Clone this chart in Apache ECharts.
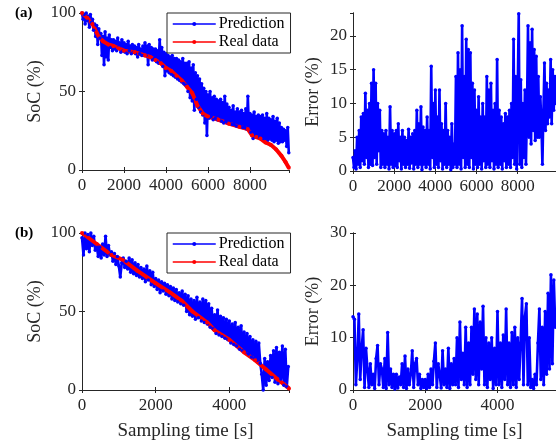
<!DOCTYPE html>
<html lang="en">
<head>
  <meta charset="UTF-8" />
  <title>SoC</title>
  <script src="https://cdn.jsdelivr.net/npm/echarts@6/dist/echarts.min.js"></script>
</head>
<body style="margin:0;background:#fff">
  <div id="main" style="width:556px;height:442px;"></div>
  <script type="text/javascript">
    // sampling step of the noisy series (s)
    var stepA = 50
    var stepB = 40

    // (a) prediction, one value every 50 s
    var predA = [
      100, 96, 99, 93, 100, 95, 98, 91, 99, 94,
      96, 89, 93, 85, 92, 80, 90, 84, 87, 73,
      85, 67, 88, 72, 84, 70, 86, 78, 83, 76,
      83, 77, 82, 76, 84, 78, 81, 75, 83, 76,
      81, 75, 80, 74, 82, 76, 79, 74, 80, 75,
      79, 74, 78, 72, 80, 74, 77, 73, 79, 73,
      81, 73, 79, 67, 80, 72, 78, 70, 77, 71,
      77, 69, 76, 68, 83, 70, 78, 66, 75, 60,
      74, 63, 73, 62, 72, 61, 73, 60, 71, 59,
      71, 58, 70, 57, 69, 56, 71, 55, 68, 54,
      68, 50, 69, 46, 65, 44, 67, 38, 62, 45,
      60, 40, 58, 37, 55, 35, 52, 30, 50, 22,
      48, 33, 50, 34, 46, 32, 47, 33, 45, 32,
      44, 32, 45, 31, 43, 30, 47, 31, 42, 30,
      40, 30, 38, 29, 41, 29, 37, 28, 39, 28,
      37, 28, 38, 27, 36, 27, 39, 26, 47, 26,
      36, 24, 35, 20, 37, 22, 34, 21, 35, 21,
      34, 21, 35, 20, 33, 20, 36, 19, 33, 20,
      32, 19, 34, 18, 31, 19, 33, 17, 30, 18,
      27, 18, 26, 19, 25, 15, 27, 11
    ]
    // (a) real data
    var realTimeA = [0, 250, 500, 750, 1000, 1250, 1500, 1750, 2000, 2500, 3000, 3250, 3500, 3750, 4000, 4250, 4500, 4750, 5000, 5250, 5500, 5750, 6000, 6500, 7000, 7500, 7900, 8100, 8300, 8500, 8750, 9000, 9250, 9500, 9700, 9850]
    var realA = [100, 97, 93, 86, 82, 80, 79, 77.5, 76, 75, 73, 72, 70, 68, 65, 63, 60, 57, 53, 49, 41, 36, 34, 32, 29.5, 27.5, 26, 22, 21, 20, 17.5, 16, 13, 9, 5, 1.5]
    // (a) error, every 50 s
    var errA = [
      2, 0.5, 3, 0.3, 5, 1, 6, 0.5, 8, 1.5,
      8.5, 1, 11.5, 2, 9, 0.5, 10, 1, 13, 0.8,
      15, 2, 13, 1, 10, 3, 9, 0.5, 6, 1,
      5.5, 0.5, 6, 1, 5, 0.3, 9.5, 1, 6, 0.5,
      5.5, 0.8, 6, 0.5, 7, 1.5, 5, 0.3, 6, 1,
      5, 0.5, 4.5, 1, 6.2, 0.4, 5, 1.2, 5.5, 0.3,
      6, 1, 9, 0.5, 7, 1, 9.5, 0.2, 6.5, 1,
      6, 0.5, 8, 1, 6, 0.3, 15.5, 2, 10, 0.5,
      12, 1, 8, 0.5, 12, 1.5, 7, 0.3, 6, 1,
      10, 0.5, 6, 1, 5, 0.2, 7, 0.5, 4, 1,
      14, 0.5, 17.5, 1, 15, 0.3, 21.5, 2, 14, 0.5,
      19.5, 1, 18, 0.5, 17.5, 2, 13, 0.3, 12, 1,
      9, 0.5, 11, 1, 8, 0.3, 10, 1.5, 8, 0.5,
      14, 1, 12, 0.5, 13, 1.5, 9, 0.3, 10, 1,
      16.5, 0.5, 9, 1, 8, 0.3, 7, 1.5, 8.5, 0.5,
      8, 1, 9, 0.5, 10, 2, 19.5, 1, 14, 0.3,
      12, 23.3, 1, 13.5, 0.5, 10, 2, 12, 1, 9,
      21.5, 5, 19, 4, 21, 6, 18, 4.5, 17, 5,
      14, 5, 11, 7, 1, 9, 16, 6, 13, 7,
      12, 8, 16.5, 7, 15, 9, 14, 10
    ]

    // (b) prediction, one value every 40 s
    var predB = [
      97, 86, 100, 90, 99, 88, 100, 92, 98, 89,
      92, 85, 91, 84, 93, 86, 98, 85, 92, 86,
      88, 82, 87, 80, 85, 79, 72, 81, 84, 78,
      82, 77, 84, 75, 83, 74, 81, 73, 80, 72,
      78, 71, 77, 69, 79, 70, 76, 67, 75, 66,
      71, 64, 70, 62, 69, 63, 68, 61, 67, 60,
      66, 58, 65, 57, 64, 56, 62, 55, 63, 54,
      61, 50, 60, 48, 58, 47, 57, 45, 59, 46,
      56, 44, 58, 43, 57, 42, 55, 40, 52, 39,
      48, 36, 51, 35, 47, 34, 46, 33, 45, 32,
      44, 30, 42, 29, 43, 28, 40, 26, 41, 25,
      37, 24, 36, 23, 34, 21, 32, 20, 31, 19,
      30, 17, 10, 0, 20, 3, 18, 6, 22, 8,
      25, 5, 27, 4, 24, 7, 28, 3, 26, 2,
      15
    ]
    // (b) real data
    var realTimeB = [0, 400, 800, 1100, 1500, 2000, 2400, 2700, 3000, 3400, 3600, 4000, 4400, 4700, 5000, 5300, 5620]
    var realB = [100, 93, 86, 83, 76, 68, 62, 57, 50, 43, 38, 32, 24, 19, 13, 7, 1]
    // (b) error, every 40 s
    var errB = [
      14, 13.5, 1, 6, 14.5, 2, 8, 11.5, 0.5, 8,
      4, 0.5, 5, 1, 3, 0.3, 6, 8.5, 1, 5,
      4, 0.5, 6, 0.3, 11, 1, 4, 0.5, 3, 0.2,
      3, 0.4, 2.5, 1, 5, 0.5, 6.5, 0.3, 4, 1,
      3, 7.5, 0.5, 5, 6, 1, 3, 0.3, 2, 0.5,
      2, 0.3, 3, 0.5, 4, 1, 5.5, 9, 0.5, 5,
      3, 0.4, 7.5, 1, 4, 0.5, 8, 0.3, 5, 1,
      6, 1, 10, 0.5, 13, 2, 7, 1, 12, 0.5,
      9, 1, 12, 3, 15.5, 2, 14.5, 1, 13, 4,
      16, 1, 10, 0.5, 9, 2, 10, 0.3, 8, 1,
      15, 1, 9, 0.5, 10.5, 2, 15.5, 1, 9, 0.5,
      11, 1, 12, 0.5, 10, 2, 9, 17.5, 1, 14,
      16.5, 1, 10, 0.5, 2, 0.3, 3, 1, 9, 15.5,
      2, 12, 1, 15, 3, 18.5, 4, 22, 5, 21,
      12
    ]

    var ink = '#262626'
    var font = 'Liberation Serif'

    function pairs(vals, step) {
      return vals.map(function (v, i) { return [i * step, v] })
    }
    function zip(ts, vals) {
      return vals.map(function (v, i) { return [ts[i], v] })
    }
    function plain(v) { return String(v) }

    function xAxes(g, max, named) {
      var base = {
        type: 'value', gridIndex: g, min: 0, max: max, interval: 2000,
        splitLine: { show: false },
        axisLine: { show: true, lineStyle: { color: ink, width: 1 } },
        axisTick: { inside: true, length: 3, lineStyle: { color: ink } }
      }
      var bottom = Object.assign({}, base, {
        position: 'bottom',
        axisLabel: { color: ink, fontFamily: font, fontSize: 17, margin: 7, showMaxLabel: false, formatter: plain },
        name: named ? 'Sampling time [s]' : '',
        nameLocation: 'middle', nameGap: 32,
        nameTextStyle: { color: ink, fontFamily: font, fontSize: 19 }
      })
      var top = Object.assign({}, base, { position: 'top', axisLabel: { show: false } })
      return [bottom, top]
    }
    function yAxes(g, max, interval, name, gap) {
      var base = {
        type: 'value', gridIndex: g, min: 0, max: max, interval: interval,
        splitLine: { show: false },
        axisLine: { show: true, lineStyle: { color: ink, width: 1 } },
        axisTick: { inside: true, length: 3, lineStyle: { color: ink } }
      }
      var left = Object.assign({}, base, {
        position: 'left',
        axisLabel: { color: ink, fontFamily: font, fontSize: 17, margin: 6, showMaxLabel: max % interval === 0, formatter: plain },
        name: name, nameLocation: 'middle', nameGap: gap,
        nameTextStyle: { color: ink, fontFamily: font, fontSize: 18 }
      })
      var right = Object.assign({}, base, { position: 'right', axisLabel: { show: false } })
      return [left, right]
    }

    function line(name, data, color, xi, yi, width, size) {
      return {
        type: 'line', name: name, data: data, xAxisIndex: xi, yAxisIndex: yi,
        color: color, symbol: 'circle', symbolSize: size, showAllSymbol: true,
        lineStyle: { color: color, width: width }, itemStyle: { color: color },
        animation: false, silent: true
      }
    }

    var myChart = echarts.init(document.getElementById('main'))
    var option = {
      backgroundColor: '#fff',
      grid: [
        { left: 82, top: 13, width: 207, height: 157 },
        { left: 353, top: 13, width: 207, height: 158 },
        { left: 82, top: 233, width: 207, height: 157 },
        { left: 353, top: 233, width: 207, height: 158 }
      ],
      xAxis: [].concat(xAxes(0, 9860, false), xAxes(1, 9860, false), xAxes(2, 5620, true), xAxes(3, 5620, true)),
      yAxis: [].concat(yAxes(0, 100, 50, 'SoC (%)', 38), yAxes(1, 23.4, 5, 'Error (%)', 31),
        yAxes(2, 100, 50, 'SoC (%)', 38), yAxes(3, 30, 10, 'Error (%)', 31)),
      legend: [0, 1].map(function (k) {
        return {
          data: ['Prediction', 'Real data'].map(function (n) { return { name: n } }),
          orient: 'vertical', left: 167, top: k === 0 ? 13 : 233,
          width: 110, padding: [3, 6, 3, 5], itemGap: 2,
          itemWidth: 43, itemHeight: 5,
          backgroundColor: '#fff', borderColor: ink, borderWidth: 1,
          lineStyle: { width: 1.5 },
          textStyle: { color: '#000', fontFamily: font, fontSize: 16, padding: [0, 0, 0, -2] },
          selectedMode: false
        }
      }),
      graphic: [
        { type: 'text', left: 15, top: 6, style: { text: '(a)', font: 'bold 15px "Liberation Serif"', fill: '#000' } },
        { type: 'text', left: 15, top: 226, style: { text: '(b)', font: 'bold 15px "Liberation Serif"', fill: '#000' } }
      ],
      series: [
        line('Prediction', pairs(predA, stepA), '#0000ff', 0, 0, 2.6, 3.5),
        line('Real data', zip(realTimeA, realA), '#ff0000', 0, 0, 4, 4),
        line('Error a', pairs(errA, stepA), '#0000ff', 2, 2, 2.6, 3.5),
        line('Prediction', pairs(predB, stepB), '#0000ff', 4, 4, 2.6, 3.5),
        line('Real data', zip(realTimeB, realB), '#ff0000', 4, 4, 4, 4),
        line('Error b', pairs(errB, stepB), '#0000ff', 6, 6, 2.6, 3.5)
      ]
    }
    myChart.setOption(option)
  </script>
</body>
</html>
